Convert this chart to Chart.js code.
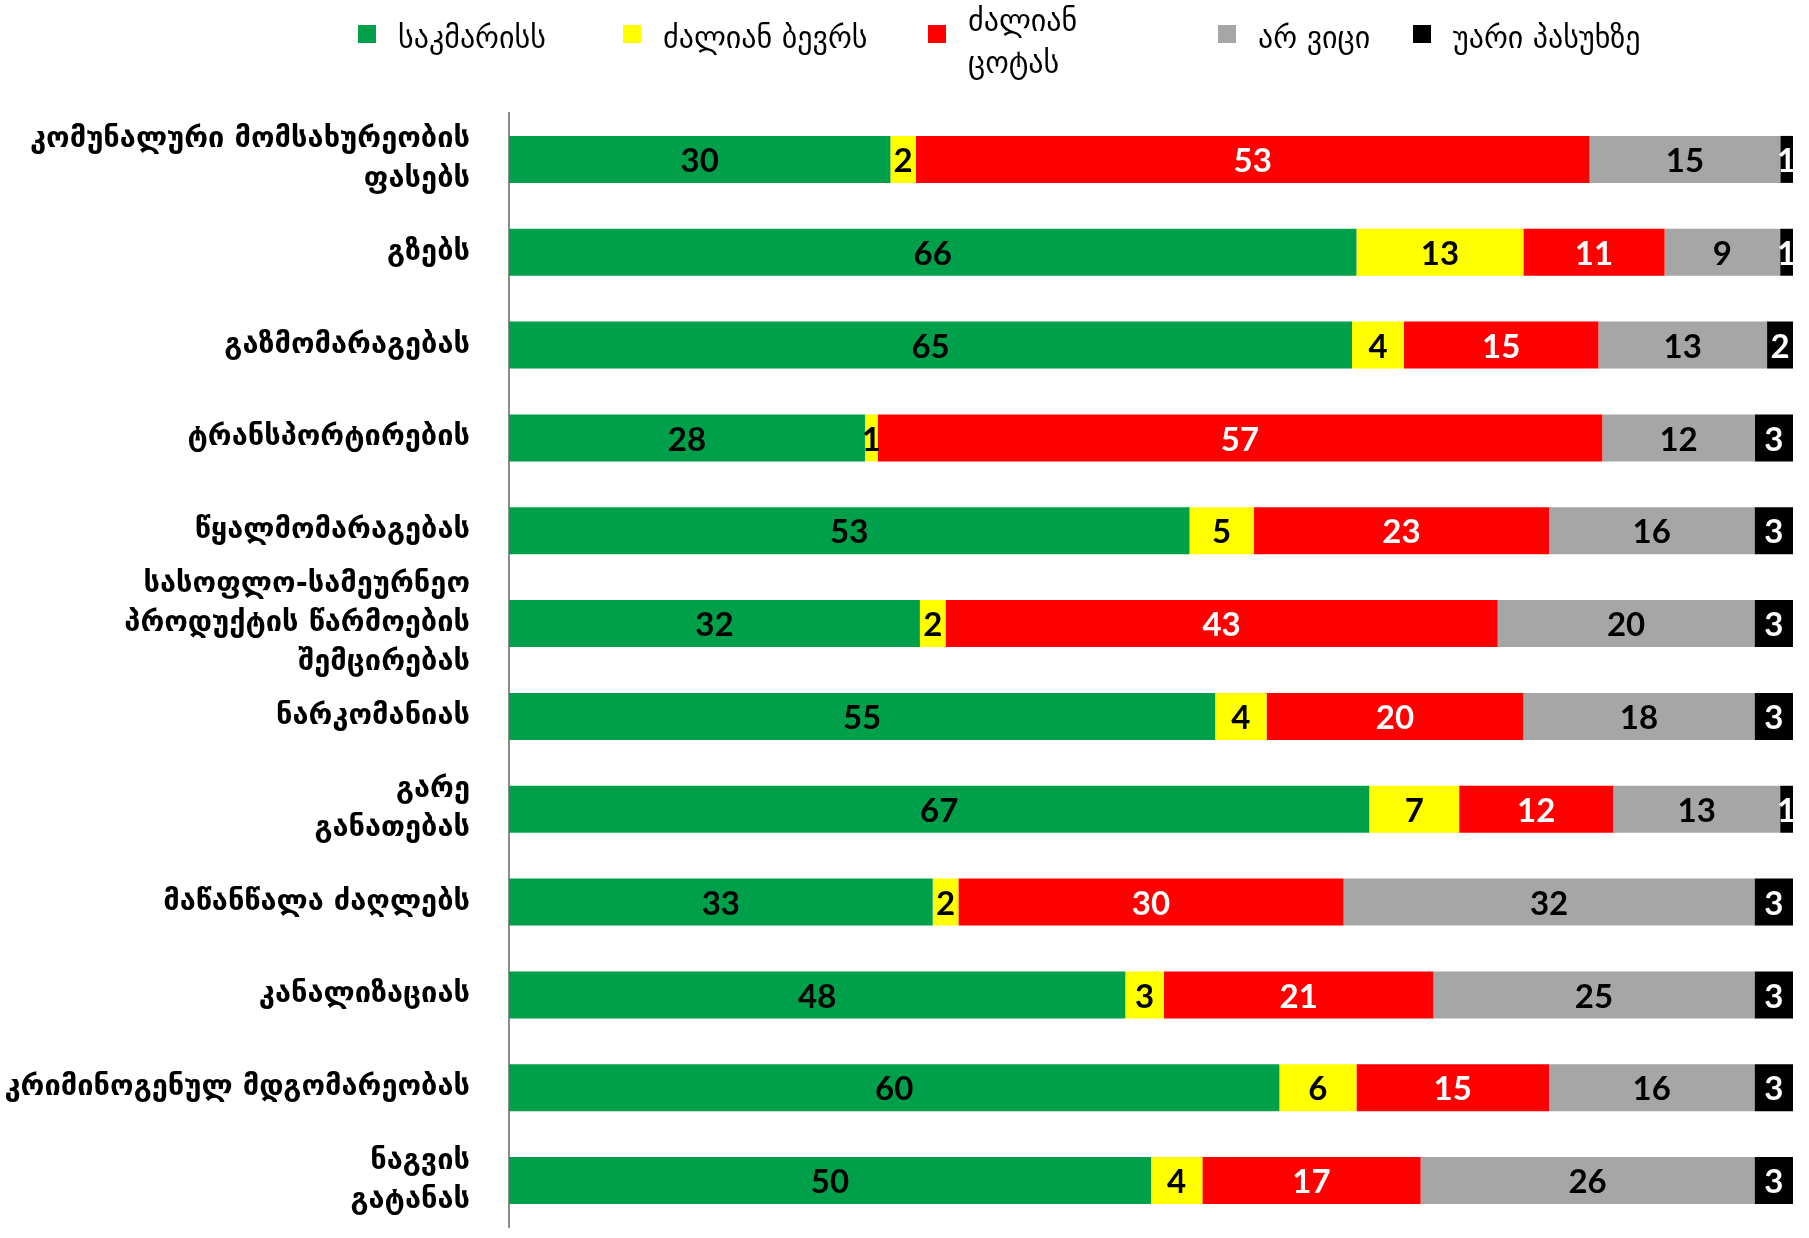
<!DOCTYPE html>
<html>
<head>
<meta charset="utf-8">
<script src="https://cdn.jsdelivr.net/npm/chart.js@4.4.0/dist/chart.umd.min.js"></script>
<style>
  body { margin: 0; background: #fff; }
  #wrap { position: relative; width: 1809px; height: 1238px; }
  #chart { display: block; }
  #legend {
    position: absolute; left: 358px; top: 0; display: flex;
    font-family: "DejaVu Sans", sans-serif; font-size: 30px; color: #000;
  }
  .lg-item { display: flex; align-items: flex-start; }
  .lg-box { width: 18px; height: 18px; margin-top: 25px; margin-right: 22px; flex: none; }
  .lg-text { line-height: 40px; padding-top: 18px; white-space: nowrap; }
</style>
</head>
<body>
<div id="wrap">
  <canvas id="chart" width="1809" height="1238"></canvas>
  <div id="legend"></div>
</div>
<script>
// ===============================
// DATA
// ===============================
const categories = [
  ["კომუნალური მომსახურეობის", "ფასებს"],
  "გზებს",
  "გაზმომარაგებას",
  "ტრანსპორტირების",
  "წყალმომარაგებას",
  ["სასოფლო-სამეურნეო", "პროდუქტის წარმოების", "შემცირებას"],
  "ნარკომანიას",
  ["გარე", "განათებას"],
  "მაწანწალა ძაღლებს",
  "კანალიზაციას",
  "კრიმინოგენულ მდგომარეობას",
  ["ნაგვის", "გატანას"]
];

const seriesNames = ["საკმარისს", "ძალიან ბევრს", "ძალიან ცოტას", "არ ვიცი", "უარი პასუხზე"];

const enough    = [30, 66, 65, 28, 53, 32, 55, 67, 33, 48, 60, 50];
const tooMuch   = [2, 13, 4, 1, 5, 2, 4, 7, 2, 3, 6, 4];
const tooLittle = [53, 11, 15, 57, 23, 43, 20, 12, 30, 21, 15, 17];
const dontKnow  = [15, 9, 13, 12, 16, 20, 18, 13, 32, 25, 16, 26];
const refused   = [1, 1, 2, 3, 3, 3, 3, 1, 3, 3, 3, 3];

const seriesValues = [enough, tooMuch, tooLittle, dontKnow, refused];
const colors = ["#00A04A", "#FFFF00", "#FF0000", "#A6A6A6", "#000000"];
const labelColors = ["#000", "#000", "#fff", "#000", "#fff"];

// 100% stacked: each row scaled by its own total
const rowTotals = categories.map((_, j) => seriesValues.reduce((s, arr) => s + arr[j], 0));

// ===============================
// VALUE LABELS
// ===============================
const valueLabels = {
  id: "valueLabels",
  afterDatasetsDraw(chart) {
    const ctx = chart.ctx;
    ctx.save();
    ctx.font = "bold 33px Lato, 'Open Sans', sans-serif";
    ctx.textAlign = "center";
    ctx.textBaseline = "middle";
    chart.data.datasets.forEach((ds, i) => {
      const meta = chart.getDatasetMeta(i);
      meta.data.forEach((bar, j) => {
        const { x, base, y } = bar.getProps(["x", "base", "y"], true);
        ctx.fillStyle = labelColors[i];
        ctx.fillText(String(seriesValues[i][j]), (x + base) / 2, y + 2);
      });
    });
    ctx.restore();
  }
};

// ===============================
// CHART
// ===============================
new Chart(document.getElementById("chart"), {
  type: "bar",
  data: {
    labels: categories,
    datasets: seriesValues.map((vals, i) => ({
      label: seriesNames[i],
      data: vals.map((v, j) => v / rowTotals[j] * 100),
      backgroundColor: colors[i],
      borderWidth: 0,
      categoryPercentage: 1,
      barPercentage: 0.506
    }))
  },
  options: {
    indexAxis: "y",
    responsive: false,
    animation: false,
    layout: { padding: { top: 113, bottom: 11, right: 16, left: 0 } },
    plugins: { legend: { display: false }, tooltip: { enabled: false } },
    scales: {
      x: { stacked: true, display: false, min: 0, max: 100 },
      y: {
        stacked: true,
        grid: { display: false, drawTicks: false },
        border: { display: true, color: "#8c8c8c", width: 2 },
        ticks: {
          autoSkip: false,
          padding: 39,
          color: "#000",
          font: { family: "'DejaVu Sans', sans-serif", size: 29, weight: "bold", lineHeight: 1.35 }
        },
        afterFit(scale) {
          // fixed label column; labels may overhang the plot edges
          scale.width = 509;
          scale.paddingTop = 0;
          scale.paddingBottom = 0;
        }
      }
    }
  },
  plugins: [valueLabels]
});

// ===============================
// LEGEND (HTML)
// ===============================
const itemWidths = [265, 305, 290, 195, 300];
const legendEl = document.getElementById("legend");
seriesNames.forEach((name, i) => {
  const item = document.createElement("div");
  item.className = "lg-item";
  item.style.width = itemWidths[i] + "px";
  item.innerHTML = `<div class="lg-box" style="background:${colors[i]}"></div>
    <div class="lg-text" style="${i === 2 ? "white-space:normal;width:120px;padding-top:0;line-height:42px" : ""}">${name}</div>`;
  legendEl.appendChild(item);
});
</script>
</body>
</html>
